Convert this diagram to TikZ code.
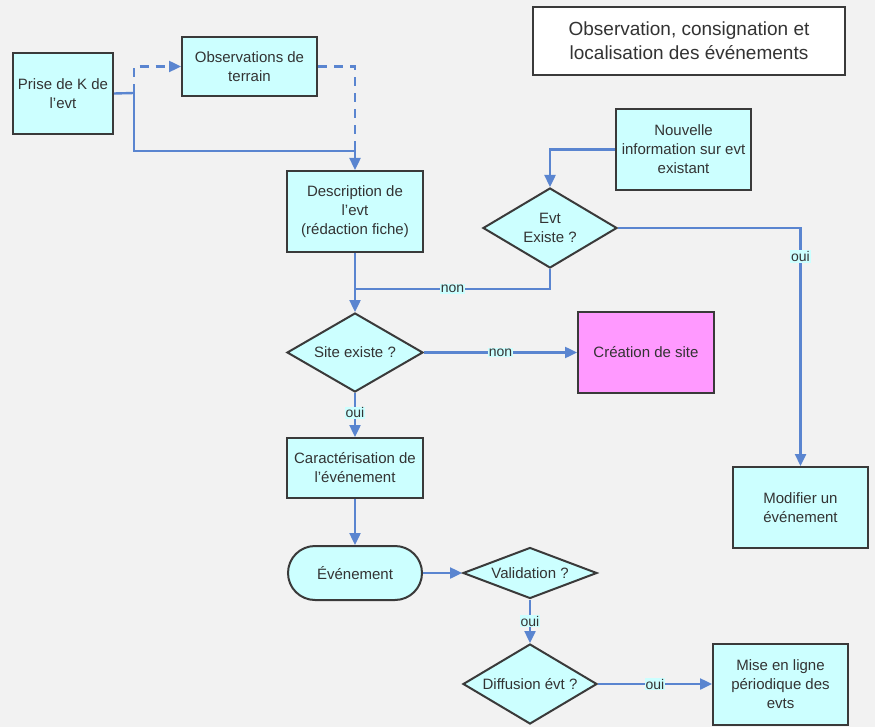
\documentclass[tikz,border=0pt]{standalone}
\usepackage{fontspec}
\setmainfont{Liberation Sans}
\usepackage{tikz}
\usetikzlibrary{shapes,arrows.meta}
\definecolor{fond}{HTML}{F2F2F2}
\definecolor{cyanbox}{HTML}{CCFFFF}
\definecolor{rose}{HTML}{FF99FF}
\definecolor{bord}{HTML}{3A3A3A}
\definecolor{fleche}{HTML}{5A85D0}

\begin{document}
\begin{tikzpicture}[x=1pt,y=-1pt,font=\fontsize{15}{19}\selectfont]
\tikzstyle{box}=[draw=bord,fill=cyanbox,line width=2pt,align=center,minimum width=135pt,minimum height=81pt,inner sep=2pt,text=black!80]
\tikzstyle{choix}=[box,diamond,minimum width=134pt,minimum height=80pt,inner sep=0pt,aspect=1.7]
\tikzstyle{lab}=[fill=cyanbox,inner sep=1pt,font=\fontsize{14}{16}\selectfont,text=black!80]
\tikzstyle{fl}=[draw=fleche,line width=2.4pt]
\tikzstyle{fla}=[fl,-{Triangle[length=12pt,width=11pt]}]
\fill[fond] (0,0) rectangle (875,727);
\useasboundingbox (0,0) rectangle (875,727);
\node[box,fill=white,minimum width=312pt,minimum height=68pt,font=\fontsize{19}{24}\selectfont] (titre) at (689,41) {Observation, consignation et\\localisation des événements};
\node[box,minimum width=100pt] (prise) at (63,93.5) {Prise de K de\\l’evt};
\node[box,minimum height=59pt] (obs) at (249.5,66.5) {Observations de\\terrain};
\node[box,minimum width=136pt] (desc) at (355,211.5) {Description de\\l’evt\\(rédaction fiche)};
\node[box] (nouv) at (683.5,149.5) {Nouvelle\\information sur evt\\existant};
\node[choix] (evt) at (550,228) {Evt\\Existe ?};
\node[choix,minimum width=136pt,minimum height=79pt] (site) at (355,352.5) {Site existe ?};
\node[box,fill=rose,minimum width=136pt] (creation) at (646,352.5) {Création de site};
\node[box,minimum width=136pt,minimum height=60pt] (caract) at (355,468) {Caractérisation de\\l’événement};
\node[box,rounded corners=27pt,minimum width=134pt,minimum height=54pt] (even) at (355,573) {Événement};
\node[choix,minimum height=51pt,aspect=2.6] (valid) at (530,573) {Validation ?};
\node[choix] (diff) at (530,684) {Diffusion évt ?};
\node[box] (mise) at (780.5,684) {Mise en ligne\\périodique des\\evts};
\node[box] (modif) at (800.5,507.5) {Modifier un\\événement};
\coordinate (split) at (134,93);
\coordinate (bas) at (134,151);
\coordinate (retour) at (355,289);
\draw[fl] (prise.east) -- (split);
\draw[fl,dash pattern=on 9pt off 7pt] (obs.east) -| (desc.north);
\draw[fla,dash pattern=on 9pt off 7pt] (split) |- (obs.west);
\draw[fla] (split) -- (bas) -| (desc.north);
\draw[fla] (nouv.west) -| (evt.north);
\draw[fl] (evt.south) |- node[lab,pos=0.75] {non} (retour);
\draw[fla] (desc.south) -- (site.north);
\draw[fla] (evt.east) -| node[lab,pos=0.56] {oui} (modif.north);
\draw[fla] (site.east) -- node[lab] {non} (creation.west);
\draw[fla] (site.south) -- node[lab,pos=0.45] {oui} (caract.north);
\draw[fla] (caract.south) -- (even.north);
\draw[fla] (even.east) -- (valid.west);
\draw[fla] (valid.south) -- node[lab] {oui} (diff.north);
\draw[fla] (diff.east) -- node[lab] {oui} (mise.west);
\end{tikzpicture}
\end{document}
